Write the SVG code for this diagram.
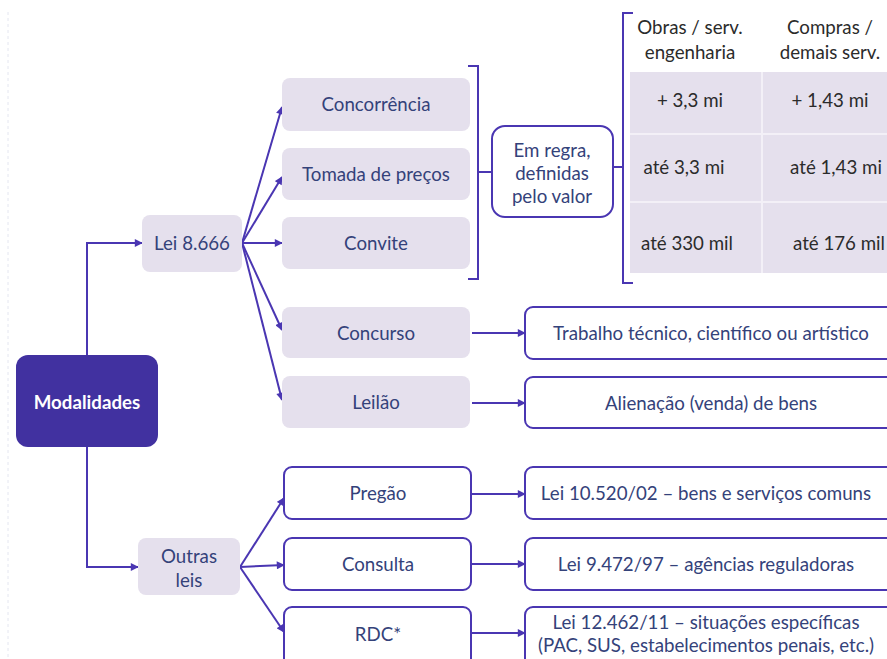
<svg xmlns="http://www.w3.org/2000/svg" width="887" height="659" viewBox="0 0 887 659">
<defs>
<marker id="ah" viewBox="0 0 10 10" refX="9" refY="5" markerWidth="9" markerHeight="8" markerUnits="userSpaceOnUse" orient="auto">
<path d="M0,0 L10,5 L0,10 z" fill="#4a36b2"/>
</marker>
<style>
.c{fill:none;stroke:#4a36b2;stroke-width:2}
.ca{fill:none;stroke:#4a36b2;stroke-width:2;marker-end:url(#ah)}
.lav{fill:#e5e0ed}
.wb{fill:#ffffff;stroke:#4a36b2;stroke-width:2}
.t{font-family:Lato,"Open Sans","Liberation Sans",sans-serif;font-size:18.7px;fill:#34427a;text-anchor:middle}
.tt{font-family:Lato,"Open Sans","Liberation Sans",sans-serif;font-size:18.7px;fill:#2b2b2b;text-anchor:middle}
.tw{font-family:Lato,"Open Sans","Liberation Sans",sans-serif;font-size:18.7px;font-weight:bold;fill:#ffffff;text-anchor:middle}
</style>
</defs>
<rect width="887" height="659" fill="#ffffff"/>
<line x1="8" y1="12" x2="8" y2="659" stroke="#e4e6f0" stroke-width="1" stroke-dasharray="3,3"/>

<g id="connectors">
<path class="ca" d="M87,355 V243 H142"/>
<path class="ca" d="M87,447 V567 H138"/>
<path class="ca" d="M242,243 L282,107"/>
<path class="ca" d="M242,243 L282,177"/>
<path class="ca" d="M242,243 L282,243"/>
<path class="ca" d="M242,243 L282,330"/>
<path class="ca" d="M242,243 L282,400"/>
<path class="ca" d="M240,567 L284,498"/>
<path class="ca" d="M240,567 L284,565"/>
<path class="ca" d="M240,567 L284,632"/>
<path class="ca" d="M472,333 L525,333"/>
<path class="ca" d="M472,403 L525,403"/>
<path class="ca" d="M472,494 L525,494"/>
<path class="ca" d="M472,564 L525,564"/>
<path class="ca" d="M472,633 L525,633"/>
<path class="c" d="M468,66 H478 V279 H468 M478,172 H492"/>
<path class="c" d="M633,13 H623 V283 H633 M623,167 H613"/>
</g>

<g id="modalidades">
<rect x="16" y="355" width="142" height="92" rx="12" fill="#4131a0"/>
<text class="tw" x="87" y="409">Modalidades</text>
</g>
<g id="lei8666">
<rect class="lav" x="142" y="215" width="100" height="57" rx="8"/>
<text class="t" x="192" y="250">Lei 8.666</text>
</g>
<g id="outras">
<rect class="lav" x="138" y="538" width="102" height="57" rx="8"/>
<text class="t" x="189" y="563">Outras</text>
<text class="t" x="189" y="587">leis</text>
</g>
<g id="concorrencia">
<rect class="lav" x="282" y="78" width="188" height="53" rx="8"/>
<text class="t" x="376" y="111">Concorrência</text>
</g>
<g id="tomada">
<rect class="lav" x="282" y="148" width="188" height="52" rx="8"/>
<text class="t" x="376" y="181">Tomada de preços</text>
</g>
<g id="convite">
<rect class="lav" x="282" y="217" width="188" height="52" rx="8"/>
<text class="t" x="376" y="250">Convite</text>
</g>
<g id="emregra">
<rect class="wb" x="492" y="126" width="121" height="91" rx="13"/>
<text class="t" x="552" y="157">Em regra,</text>
<text class="t" x="552" y="180">definidas</text>
<text class="t" x="552" y="203">pelo valor</text>
</g>
<g id="tabela">
<rect x="630" y="72" width="262" height="201" fill="#e5e0ed"/>
<line x1="762" y1="72" x2="762" y2="273" stroke="#f3f0f7" stroke-width="2"/>
<line x1="630" y1="134" x2="887" y2="134" stroke="#f3f0f7" stroke-width="2"/>
<line x1="630" y1="202" x2="887" y2="202" stroke="#f3f0f7" stroke-width="2"/>
<text class="tt" x="690" y="34">Obras / serv.</text>
<text class="tt" x="690" y="59">engenharia</text>
<text class="tt" x="830" y="34">Compras /</text>
<text class="tt" x="830" y="59">demais serv.</text>
<text class="tt" x="690" y="107">+ 3,3 mi</text>
<text class="tt" x="830" y="107">+ 1,43 mi</text>
<text class="tt" x="684" y="174">até 3,3 mi</text>
<text class="tt" x="836" y="174">até 1,43 mi</text>
<text class="tt" x="687" y="250">até 330 mil</text>
<text class="tt" x="839" y="250">até 176 mil</text>
</g>
<g id="concurso">
<rect class="lav" x="282" y="307" width="188" height="51" rx="8"/>
<text class="t" x="376" y="340">Concurso</text>
</g>
<g id="concurso-desc">
<rect class="wb" x="525" y="307" width="372" height="52" rx="8"/>
<text class="t" x="711" y="340">Trabalho técnico, científico ou artístico</text>
</g>
<g id="leilao">
<rect class="lav" x="282" y="376" width="188" height="52" rx="8"/>
<text class="t" x="376" y="409">Leilão</text>
</g>
<g id="leilao-desc">
<rect class="wb" x="525" y="377" width="372" height="51" rx="8"/>
<text class="t" x="711" y="410">Alienação (venda) de bens</text>
</g>
<g id="pregao">
<rect class="wb" x="284" y="467" width="187" height="52" rx="8"/>
<text class="t" x="378" y="500">Pregão</text>
</g>
<g id="pregao-desc">
<rect class="wb" x="525" y="467" width="372" height="52" rx="8"/>
<text class="t" x="706" y="500">Lei 10.520/02 – bens e serviços comuns</text>
</g>
<g id="consulta">
<rect class="wb" x="284" y="538" width="187" height="52" rx="8"/>
<text class="t" x="378" y="571">Consulta</text>
</g>
<g id="consulta-desc">
<rect class="wb" x="525" y="538" width="372" height="52" rx="8"/>
<text class="t" x="706" y="571">Lei 9.472/97 – agências reguladoras</text>
</g>
<g id="rdc">
<rect class="wb" x="284" y="607" width="187" height="60" rx="8"/>
<text class="t" x="378" y="641">RDC*</text>
</g>
<g id="rdc-desc">
<rect class="wb" x="525" y="607" width="372" height="60" rx="8"/>
<text class="t" x="706" y="629">Lei 12.462/11 – situações específicas</text>
<text class="t" x="706" y="652">(PAC, SUS, estabelecimentos penais, etc.)</text>
</g>
</svg>
